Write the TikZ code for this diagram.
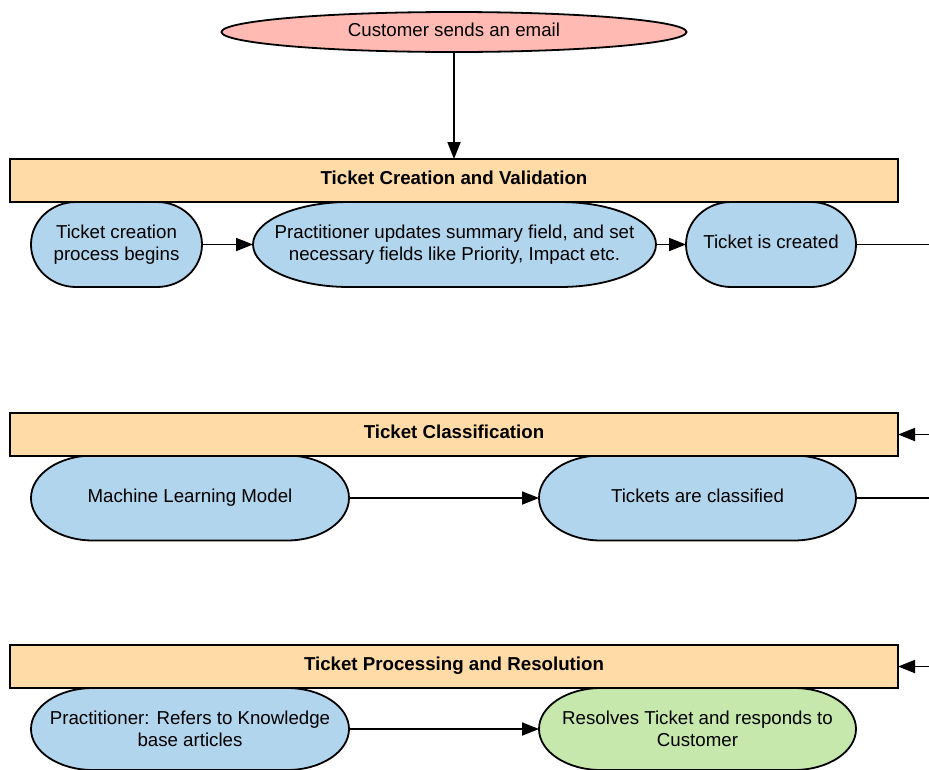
\documentclass[tikz,border=0pt]{standalone}
\usepackage{fontspec}
\setmainfont{Liberation Sans}
\usetikzlibrary{arrows.meta, shapes.geometric, backgrounds}

\definecolor{emailpink}{RGB}{255,187,179}
\definecolor{lanebuff}{RGB}{255,219,168}
\definecolor{stepblue}{RGB}{178,213,238}
\definecolor{stepgreen}{RGB}{199,232,172}

\tikzset{
  every node/.style={font=\fontsize{18.7}{22}\selectfont, align=center, inner sep=0pt, outer sep=0pt},
  oneline/.style={text height=13.4pt, text depth=5pt},
  lane/.style={draw, fill=lanebuff, line width=1.8pt, minimum width=888pt, minimum height=43pt,
    oneline, font=\fontsize{18.7}{22}\selectfont\bfseries},
  stepnode/.style={minimum height=85pt},
  flow/.style={-{Triangle[length=17pt,width=13pt]}, line width=1.8pt},
  edgeline/.style={line width=1.8pt},
}

% rounded outline behind a step node: name, corner width, half height, fill
\newcommand{\pillshape}[4]{%
  \path[draw, fill=#4, line width=1.8pt]
    ([xshift=#2pt]#1.north west) -- ([xshift=-#2pt]#1.north east)
    arc[start angle=90, end angle=-90, x radius=#2pt, y radius=#3pt]
    -- ([xshift=#2pt]#1.south west)
    arc[start angle=270, end angle=90, x radius=#2pt, y radius=#3pt] -- cycle;}

\begin{document}
\begin{tikzpicture}[x=1pt, y=-1pt]
  \useasboundingbox (0,0) rectangle (929,769);

  \node[ellipse, draw, fill=emailpink, line width=1.8pt, minimum width=465pt, minimum height=40pt, oneline]
    (email) at (454,32) {Customer sends an email};

  % creation and validation
  \node[lane] (creation) at (454,180.5) {Ticket Creation and Validation};
  \node[stepnode, minimum width=171pt] (begins) at (116.5,244.5) {Ticket creation\\process begins};
  \node[stepnode, minimum width=403pt] (updates) at (454.5,244.5)
    {Practitioner updates summary field, and set\\necessary fields like Priority, Impact etc.};
  \node[stepnode, minimum width=170pt, oneline] (created) at (771,244.5) {Ticket is created};

  % classification
  \node[lane] (classification) at (454,434.5) {Ticket Classification};
  \node[stepnode, minimum width=318pt, oneline] (model) at (190,498) {Machine Learning Model};
  \node[stepnode, minimum width=317pt, oneline] (classified) at (697.5,498) {Tickets are classified};

  % processing and resolution
  \node[lane] (processing) at (454,666.5) {Ticket Processing and Resolution};
  \node[stepnode, minimum height=82pt, minimum width=318pt] (articles) at (190,729)
    {Practitioner: Refers to Knowledge\\base articles};
  \node[stepnode, minimum height=82pt, minimum width=317pt] (resolves) at (697.5,729)
    {Resolves Ticket and responds to\\Customer};

  \begin{scope}[on background layer]
    \pillshape{begins}{45}{42.5}{stepblue}
    \pillshape{updates}{96}{42.5}{stepblue}
    \pillshape{created}{45}{42.5}{stepblue}
    \pillshape{model}{62}{42.5}{stepblue}
    \pillshape{classified}{62}{42.5}{stepblue}
    \pillshape{articles}{62}{41}{stepblue}
    \pillshape{resolves}{62}{41}{stepgreen}
  \end{scope}

  \coordinate (out1) at (929,244.5);
  \coordinate (in2) at (929,434.5);
  \coordinate (out2) at (929,498);
  \coordinate (in3) at (929,666.5);

  \draw[flow] (email) -- (creation);
  \draw[flow] (begins) -- (updates);
  \draw[flow] (updates) -- (created);
  \draw[edgeline] (created) -- (out1);
  \draw[flow] (in2) -- (classification);
  \draw[flow] (model) -- (classified);
  \draw[edgeline] (classified) -- (out2);
  \draw[flow] (in3) -- (processing);
  \draw[flow] (articles) -- (resolves);
\end{tikzpicture}
\end{document}
